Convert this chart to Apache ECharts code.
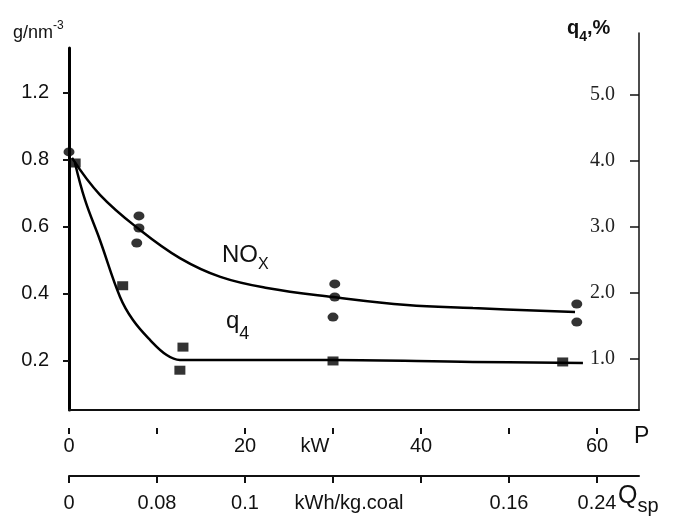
<!DOCTYPE html>
<html>
<head>
<meta charset="utf-8">
<script src="https://cdn.jsdelivr.net/npm/echarts@6/dist/echarts.min.js"></script>
<style>
html,body{margin:0;padding:0;background:#fff;}
#chart{width:679px;height:526px;}
</style>
</head>
<body>
<div id="chart"></div>
<script>
// ---- data ----
const P_MAX = 64.77;                         // kW, right edge of plot
const pTickValues = [0, 10, 20, 30, 40, 50, 60];
const pLabelValues = [0, 20, 30, 40, 60];
const pLabelTexts = ['0', '20', 'kW', '40', '60'];
const qspLabelValues = [0, 10, 20, 30, 50, 60];
const qspLabelTexts = ['0', '0.08', '0.1', 'kWh/kg.coal', '0.16', '0.24'];
const leftTickValues = [0.2, 0.4, 0.6, 0.8, 1.0];
const leftTickLabels = ['0.2', '0.4', '0.6', '0.8', '1.2'];
const rightTickValues = [1, 2, 3, 4, 5];
const rightTickLabels = ['1.0', '2.0', '3.0', '4.0', '5.0'];

// NOx, g/nm3 (left axis)
const noxCurve = [[0.34,0.806],[3.52,0.696],[8.07,0.591],[12.6,0.507],[17.2,0.451],[22.5,0.418],[30,0.391],[38.4,0.367],[45.9,0.358],[57.5,0.346]];
const noxPoints = [[0,0.824],[7.95,0.633],[7.95,0.597],[7.7,0.552],[30.2,0.430],[30.2,0.391],[30,0.331],[57.7,0.370],[57.7,0.316]];
// q4, % (right axis)
const q4Curve = [[0.68,3.97],[1.82,3.41],[3.52,2.80],[5.80,1.94],[7.27,1.59],[9.2,1.29],[11.1,1.06],[12.6,0.985],[30,0.985],[45.9,0.955],[58.4,0.94]];
const q4Points = [[0.7,3.97],[6.1,2.11],[12.95,1.18],[12.6,0.83],[30,0.97],[56.1,0.955]];

function lookup(values, texts) {
  return function (v) {
    for (let i = 0; i < values.length; i++) {
      if (Math.abs(values[i] - v) < 1e-6) return texts[i];
    }
    return '';
  };
}

const SANS = '"Liberation Sans", Arial, sans-serif';
const SERIF = '"Liberation Serif", "Times New Roman", serif';
const INK = '#111';

const chart = echarts.init(document.getElementById('chart'), null, {renderer: 'canvas'});
chart.setOption({
  animation: false,
  backgroundColor: '#fff',
  grid: [
    {left: 69, right: 40, top: 48, bottom: 116},
    {left: 69, right: 40, top: 33, bottom: 116}
  ],
  xAxis: [
    {gridIndex: 0, type: 'value', min: 0, max: P_MAX, show: false},
    {gridIndex: 1, type: 'value', min: 0, max: P_MAX, position: 'bottom', offset: 0,
     axisLine: {show: true, onZero: false, lineStyle: {color: INK, width: 2}},
     axisTick: {show: false}, axisLabel: {show: false}, splitLine: {show: false}},
    {gridIndex: 1, type: 'value', min: 0, max: P_MAX, position: 'bottom', offset: 18,
     axisLine: {show: false, onZero: false},
     axisTick: {show: true, length: 6, customValues: pTickValues, lineStyle: {color: INK, width: 2}},
     axisLabel: {show: true, customValues: pLabelValues, margin: 8,
       formatter: function (v) {
         const t = lookup(pLabelValues, pLabelTexts)(v);
         return t === 'kW' ? '{u|kW}' : t;
       },
       color: INK, fontSize: 20, fontFamily: SANS,
       rich: {u: {fontSize: 20, fontFamily: SANS, color: INK, padding: [0, 36, 0, 0]}}},
     splitLine: {show: false}},
    {gridIndex: 1, type: 'value', min: 0, max: P_MAX, position: 'bottom', offset: 66,
     axisLine: {show: true, onZero: false, lineStyle: {color: INK, width: 2}},
     axisTick: {show: true, length: 7, customValues: pTickValues, lineStyle: {color: INK, width: 2}},
     axisLabel: {show: true, customValues: qspLabelValues, margin: 17,
       formatter: function (v) {
         const t = lookup(qspLabelValues, qspLabelTexts)(v);
         return t === 'kWh/kg.coal' ? '{u|kWh/kg.coal}' : t;
       },
       color: INK, fontSize: 20, fontFamily: SANS,
       rich: {u: {fontSize: 20, fontFamily: SANS, color: INK, padding: [0, 0, 0, 32]}}},
     splitLine: {show: false}}
  ],
  yAxis: [
    {gridIndex: 0, type: 'value', position: 'left', min: 0.0537, max: 1.134,
     axisLine: {show: true, onZero: false, lineStyle: {color: '#000', width: 3}},
     axisTick: {show: true, length: 6, customValues: leftTickValues, lineStyle: {color: INK, width: 2}},
     axisLabel: {show: true, customValues: leftTickValues, margin: 20,
       formatter: lookup(leftTickValues, leftTickLabels),
       color: INK, fontSize: 20, fontFamily: SANS},
     splitLine: {show: false}},
    {gridIndex: 1, type: 'value', position: 'right', min: 0.227, max: 5.94,
     axisLine: {show: true, onZero: false, lineStyle: {color: INK, width: 1.5}},
     axisTick: {show: true, inside: true, length: 9, customValues: rightTickValues, lineStyle: {color: INK, width: 1.5}},
     axisLabel: {show: true, inside: true, customValues: rightTickValues, margin: 24,
       formatter: lookup(rightTickValues, rightTickLabels),
       color: '#222', fontSize: 20, fontFamily: SERIF},
     splitLine: {show: false}}
  ],
  series: [
    {name: 'NOx', type: 'line', xAxisIndex: 0, yAxisIndex: 0, data: noxCurve,
     smooth: 0.4, showSymbol: false, symbol: 'none',
     lineStyle: {color: '#000', width: 2.5}},
    {name: 'NOx data', type: 'scatter', xAxisIndex: 0, yAxisIndex: 0, data: noxPoints,
     symbol: 'circle', symbolSize: [11, 9], itemStyle: {color: '#000'}},
    {name: 'q4', type: 'line', xAxisIndex: 1, yAxisIndex: 1, data: q4Curve,
     smooth: 0.4, showSymbol: false, symbol: 'none',
     lineStyle: {color: '#000', width: 2.5}},
    {name: 'q4 data', type: 'scatter', xAxisIndex: 1, yAxisIndex: 1, data: q4Points,
     symbol: 'rect', symbolSize: [11, 9], itemStyle: {color: '#000'}}
  ],
  graphic: [
    {type: 'text', left: 13, top: 20, style: {
      text: '{a|g/nm}{b|-3}', rich: {
        a: {fontSize: 18, fontFamily: SANS, fill: INK, lineHeight: 22, verticalAlign: 'bottom'},
        b: {fontSize: 12, fontFamily: SANS, fill: INK, lineHeight: 22, verticalAlign: 'top'}}}},
    {type: 'text', left: 567, top: 18, style: {
      text: '{a|q}{b|4}{a|,%}', rich: {
        a: {fontSize: 20, fontWeight: 'bold', fontFamily: SANS, fill: INK, lineHeight: 26, verticalAlign: 'top'},
        b: {fontSize: 14, fontWeight: 'bold', fontFamily: SANS, fill: INK, lineHeight: 26, verticalAlign: 'bottom'}}}},
    {type: 'text', left: 222, top: 243, style: {
      text: '{a|NO}{b|X}', rich: {
        a: {fontSize: 24, fontFamily: SANS, fill: INK, lineHeight: 30, verticalAlign: 'top'},
        b: {fontSize: 16, fontFamily: SANS, fill: INK, lineHeight: 30, verticalAlign: 'bottom'}}}},
    {type: 'text', left: 226, top: 309, style: {
      text: '{a|q}{b|4}', rich: {
        a: {fontSize: 24, fontFamily: SANS, fill: INK, lineHeight: 34, verticalAlign: 'top'},
        b: {fontSize: 18, fontFamily: SANS, fill: INK, lineHeight: 34, verticalAlign: 'bottom'}}}},
    {type: 'text', left: 634, top: 425, style: {
      text: 'P', fontSize: 23, fontFamily: SANS, fill: INK}},
    {type: 'text', left: 618, top: 484, style: {
      text: '{a|Q}{b|sp}', rich: {
        a: {fontSize: 25, fontFamily: SANS, fill: INK, lineHeight: 32, verticalAlign: 'top'},
        b: {fontSize: 20, fontFamily: SANS, fill: INK, lineHeight: 32, verticalAlign: 'bottom'}}}}
  ]
});
</script>
</body>
</html>
